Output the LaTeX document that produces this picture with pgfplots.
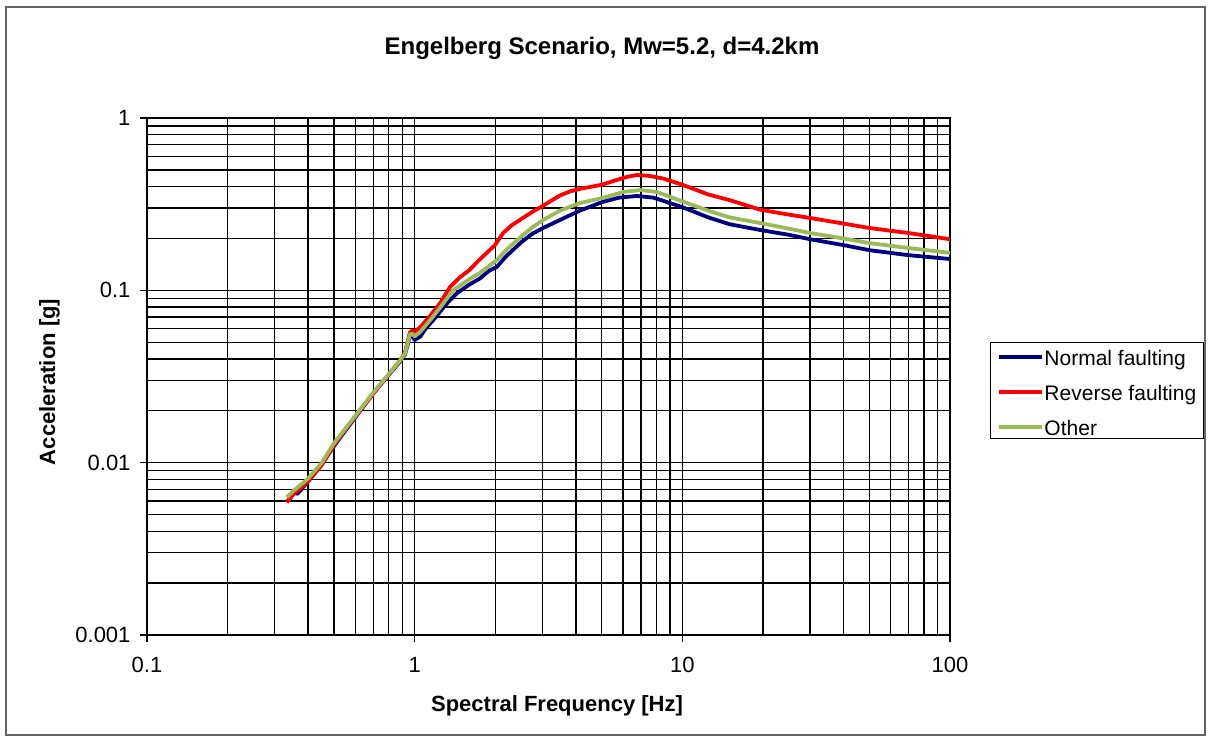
\documentclass[border=0pt]{standalone}
\usepackage{fontspec}
\setmainfont{Liberation Sans}
\usepackage{pgfplots}
\pgfplotsset{compat=1.18}
\usepackage{pgfplotstable}

\definecolor{normalblue}{RGB}{0,0,128}
\definecolor{reversered}{RGB}{255,0,0}
\definecolor{othergreen}{RGB}{155,187,89}
\definecolor{framegray}{RGB}{100,100,100}

% spectral acceleration [g] against frequency [Hz]
\pgfplotstableread{
f a
0.333 0.0059
0.345 0.0063
0.355 0.0067
0.365 0.0066
0.38 0.0071
0.40 0.0078
0.43 0.0090
0.45 0.0098
0.50 0.0125
0.55 0.0153
0.60 0.0183
0.70 0.0252
0.80 0.0323
0.88 0.0385
0.92 0.0425
0.94 0.0480
0.96 0.0545
0.98 0.0545
1.00 0.0515
1.05 0.0540
1.10 0.0600
1.20 0.0700
1.30 0.0820
1.44 0.0964
1.60 0.1080
1.75 0.1170
1.90 0.1300
2.03 0.1370
2.20 0.1580
2.50 0.1900
2.75 0.2130
3.02 0.2300
3.49 0.2560
4.14 0.2900
5.01 0.3250
5.80 0.3450
6.77 0.3530
7.80 0.3450
10.0 0.3040
12.5 0.2650
15.0 0.2420
19.5 0.2240
25.0 0.2100
30.0 0.1980
40.0 0.1830
50.0 0.1710
70.0 0.1600
100 0.1520
}\normaldata

\pgfplotstableread{
f a
0.333 0.0059
0.35 0.0065
0.37 0.0070
0.40 0.0078
0.45 0.0097
0.50 0.0127
0.55 0.0155
0.60 0.0185
0.70 0.0252
0.80 0.0325
0.88 0.0390
0.92 0.0435
0.94 0.0500
0.96 0.0570
0.98 0.0585
1.00 0.0575
1.05 0.0612
1.15 0.0720
1.25 0.0850
1.355 0.1045
1.476 0.1190
1.60 0.1310
1.75 0.1510
1.995 0.1830
2.14 0.2150
2.30 0.2380
2.47 0.2560
2.75 0.2850
3.02 0.3100
3.49 0.3550
3.80 0.3750
4.14 0.3880
5.01 0.4100
5.50 0.4300
6.20 0.4550
6.77 0.4670
7.50 0.4620
8.50 0.4450
10.0 0.4100
12.5 0.3600
15.0 0.3340
19.5 0.2940
25.0 0.2750
30.0 0.2630
40.0 0.2440
50.0 0.2300
70.0 0.2150
100 0.1980
}\reversedata

\pgfplotstableread{
f a
0.333 0.0063
0.35 0.0068
0.37 0.0073
0.40 0.0081
0.45 0.0100
0.50 0.0130
0.55 0.0157
0.60 0.0187
0.70 0.0255
0.80 0.0327
0.88 0.0390
0.92 0.0430
0.94 0.0490
0.96 0.0555
0.98 0.0560
1.00 0.0540
1.05 0.0575
1.15 0.0680
1.25 0.0800
1.39 0.1000
1.60 0.1160
1.75 0.1260
2.03 0.1500
2.20 0.1720
2.50 0.2050
2.75 0.2320
3.02 0.2560
3.49 0.2900
4.14 0.3210
5.01 0.3430
6.00 0.3720
6.95 0.3820
8.04 0.3720
10.0 0.3280
12.5 0.2900
15.0 0.2650
19.5 0.2460
25.0 0.2280
30.0 0.2150
40.0 0.2000
50.0 0.1880
70.0 0.1760
100 0.1650
}\otherdata

\begin{document}
\begin{tikzpicture}[x=1pt,y=1pt]
\useasboundingbox (0,0) rectangle (1210,741);
\draw[framegray, line width=1.6pt] (6,6) rectangle (1205,734);
\node[font=\fontsize{24}{28}\selectfont\bfseries, anchor=base] at (602,686)
  {Engelberg Scenario, Mw=5.2, d=4.2km};
\begin{axis}[
  at={(147pt,106pt)}, anchor=south west,
  scale only axis, width=803pt, height=517pt,
  xmode=log, ymode=log,
  xmin=0.1, xmax=100, ymin=0.001, ymax=1,
  xtick={0.1,1,10,100}, xticklabels={0.1,1,10,100},
  ytick={0.001,0.01,0.1,1}, yticklabels={0.001,0.01,0.1,1},
  xtick pos=bottom, ytick pos=left,
  grid=both,
  major grid style={black, line width=1.4pt},
  minor grid style={black, line width=1.4pt},
  axis line style={black, line width=1.5pt},
  tick align=outside,
  tick style={black, line width=1.4pt},
  major tick length=7pt, minor tick length=0pt,
  ticklabel style={font=\fontsize{22}{26}\selectfont},
  xticklabel style={yshift=-12pt},
  yticklabel style={xshift=-6pt},
  xlabel={Spectral Frequency [Hz]},
  ylabel={Acceleration [g]},
  label style={font=\fontsize{22}{26}\selectfont\bfseries},
  xlabel style={at={(axis description cs:0.5106,-0.147)}, anchor=base},
  ylabel style={at={(axis description cs:-0.11457,0.4894)}, anchor=base},
  legend cell align=left,
  legend image code/.code={\draw[#1] (0pt,-1.5pt) -- (43pt,-1.5pt);},
  legend style={at={(axis description cs:1.0498,0.5667)}, anchor=north west,
    draw=black, line width=1.4pt, font=\fontsize{21}{25}\selectfont,
    inner xsep=6pt, inner ysep=1pt, row sep=11pt,
    nodes={inner xsep=1pt, inner ysep=0pt, text height=22pt, text depth=2pt}},
]
\addplot[normalblue, line width=3.8pt, line join=round] table[x=f, y=a] {\normaldata};
\addlegendentry{Normal faulting}
\addplot[reversered, line width=3.8pt, line join=round] table[x=f, y=a] {\reversedata};
\addlegendentry{Reverse faulting}
\addplot[othergreen, line width=3.8pt, line join=round] table[x=f, y=a] {\otherdata};
\addlegendentry{Other}
\end{axis}
\end{tikzpicture}
\end{document}
